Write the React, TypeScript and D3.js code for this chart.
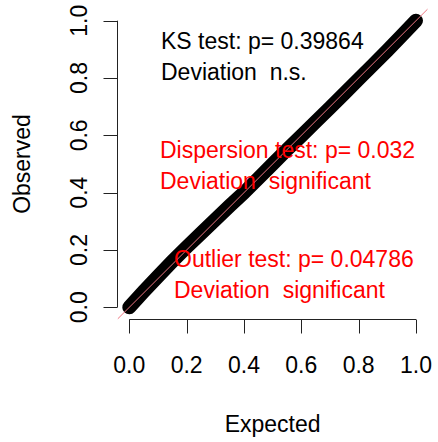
import * as React from 'react';
import { useRef, useEffect } from 'react';
import * as d3 from 'd3';

// QQ plot: expected vs observed quantiles
const expected = [0, 0.05, 0.1, 0.15, 0.2, 0.25, 0.3, 0.35, 0.4, 0.45, 0.5, 0.55, 0.6, 0.65, 0.7, 0.75, 0.8, 0.85, 0.9, 0.95, 1.0];
const observed = [0.0, 0.055, 0.108, 0.16, 0.21, 0.258, 0.306, 0.354, 0.4, 0.45, 0.5, 0.55, 0.598, 0.647, 0.696, 0.746, 0.796, 0.846, 0.896, 0.948, 1.0];
const tickValues = [0, 0.2, 0.4, 0.6, 0.8, 1.0];

const ksLines = ['KS test: p= 0.39864', 'Deviation  n.s.'];
const dispLines = ['Dispersion test: p= 0.032', 'Deviation  significant'];
const outLines = ['Outlier test: p= 0.04786', 'Deviation  significant'];

const W = 438;
const H = 442;
const FONT = '"Liberation Sans", Arial, sans-serif';

export default function App() {
  const svgRef = useRef<SVGSVGElement | null>(null);

  useEffect(() => {
    if (!svgRef.current) return;
    const svg = d3.select(svgRef.current);
    svg.selectAll('*').remove();

    const x = d3.scaleLinear().domain([0, 1]).range([129.3, 416]);
    const y = d3.scaleLinear().domain([0, 1]).range([307.3, 20.7]);
    const axisY = 319.5;
    const axisX = 117.5;
    const tickLen = 14;

    svg.append('rect').attr('width', W).attr('height', H).attr('fill', '#fff');

    // points band
    const pts = expected.map((e, i) => [e, observed[i]] as [number, number]);
    const line = d3.line<[number, number]>().x(d => x(d[0])).y(d => y(d[1]));
    svg.append('path')
      .attr('d', line(pts))
      .attr('fill', 'none')
      .attr('stroke', '#000')
      .attr('stroke-width', 14)
      .attr('stroke-linecap', 'round')
      .attr('stroke-linejoin', 'round');

    // 1:1 line
    svg.append('line')
      .attr('x1', x(-0.04)).attr('y1', y(-0.04))
      .attr('x2', x(1.04)).attr('y2', y(1.04))
      .attr('stroke', '#ee7580')
      .attr('stroke-width', 1);

    // x axis
    const gx = svg.append('g');
    gx.append('line')
      .attr('x1', x(0)).attr('x2', x(1))
      .attr('y1', axisY).attr('y2', axisY)
      .attr('stroke', '#222');
    tickValues.forEach(v => {
      const px = Math.round(x(v)) + 0.5;
      gx.append('line')
        .attr('x1', px).attr('x2', px)
        .attr('y1', axisY).attr('y2', axisY + tickLen)
        .attr('stroke', '#222');
      gx.append('text')
        .attr('x', x(v)).attr('y', 373.3)
        .attr('text-anchor', 'middle')
        .attr('font-family', FONT).attr('font-size', 23)
        .text(v.toFixed(1));
    });
    gx.append('text')
      .attr('x', (x(0) + x(1)) / 2).attr('y', 431.7)
      .attr('text-anchor', 'middle')
      .attr('font-family', FONT).attr('font-size', 23)
      .text('Expected');

    // y axis
    const gy = svg.append('g');
    gy.append('line')
      .attr('x1', axisX).attr('x2', axisX)
      .attr('y1', y(0)).attr('y2', y(1))
      .attr('stroke', '#222');
    tickValues.forEach(v => {
      const py = Math.round(y(v)) + 0.5;
      gy.append('line')
        .attr('x1', axisX - tickLen).attr('x2', axisX)
        .attr('y1', py).attr('y2', py)
        .attr('stroke', '#222');
      gy.append('text')
        .attr('transform', `translate(87.3,${y(v)}) rotate(-90)`)
        .attr('text-anchor', 'middle')
        .attr('font-family', FONT).attr('font-size', 23)
        .text(v.toFixed(1));
    });
    gy.append('text')
      .attr('transform', `translate(30,${(y(0) + y(1)) / 2}) rotate(-90)`)
      .attr('text-anchor', 'middle')
      .attr('font-family', FONT).attr('font-size', 23)
      .text('Observed');

    // test annotations
    const note = (lines: string[], x0: number, y0: number, color: string) => {
      lines.forEach((t, i) => {
        svg.append('text')
          .attr('x', x0).attr('y', y0 + i * 31)
          .attr('fill', color)
          .attr('font-family', FONT).attr('font-size', 23)
          .style('white-space', 'pre')
          .text(t);
      });
    };
    note(ksLines, 161, 49.3, '#000');
    note(dispLines, 160, 157.5, '#ff0000');
    note(outLines, 174, 267, '#ff0000');
  }, []);

  return (
    <svg
      ref={svgRef}
      width={W}
      height={H}
      style={{ position: 'absolute', left: 0, top: 0, display: 'block' }}
    />
  );
}
